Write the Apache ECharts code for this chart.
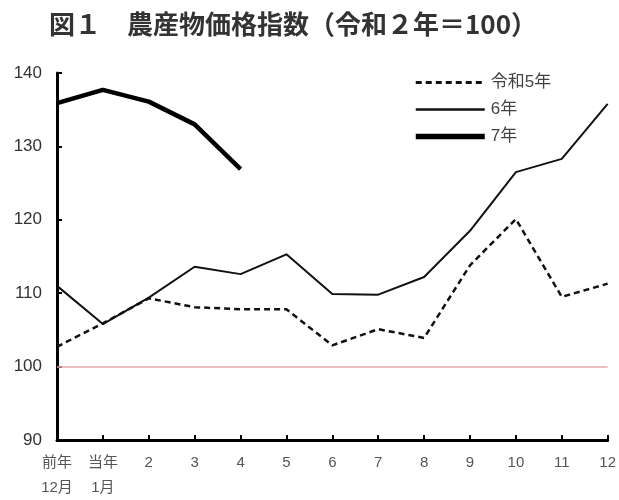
<!DOCTYPE html>
<html><head><meta charset="utf-8">
<script src="https://cdn.jsdelivr.net/npm/echarts@6/dist/echarts.min.js"></script>
<style>html,body{margin:0;padding:0;background:#fff}#c{width:619px;height:500px}</style>
</head><body><div id="c"></div>
<script>
const categories = ['前年\n12月','当年\n1月','2','3','4','5','6','7','8','9','10','11','12'];
const seriesNames = ['令和5年','6年','7年'];
const r5 = [102.7,105.9,109.3,108.1,107.8,107.8,102.9,105.1,103.9,113.8,120.1,109.5,111.3];
const r6 = [111.0,105.8,109.4,113.6,112.6,115.3,109.9,109.8,112.2,118.5,126.5,128.3,135.8];
const r7 = [135.9,137.7,136.1,133.0,126.9];
const baseline = 100;
const yTicks = {min:90, max:140, interval:10};
const FONT = '"Liberation Sans","Noto Sans CJK JP",sans-serif';
const widths = [2.5, 2, 4.5];
const legendWidths = [3, 2.5, 5.5];
const chart = echarts.init(document.getElementById('c'));
chart.setOption({
  animation:false,
  title:{text:'図１　農産物価格指数（令和２年＝100）',left:44,top:6,
    textStyle:{fontFamily:'"Noto Sans CJK JP",sans-serif',fontSize:26,fontWeight:'bold',color:'#333'}},
  legend:{orient:'vertical',left:413,top:74,padding:0,itemWidth:69,itemHeight:14,itemGap:10,
    itemStyle:{opacity:0},
    data:seriesNames.map((n,i)=>({name:n,lineStyle:{width:legendWidths[i]}})),
    textStyle:{fontFamily:FONT,fontSize:17,color:'#444',padding:[0,0,0,1]}},
  grid:{left:57,right:10,top:73,bottom:57,containLabel:false},
  xAxis:{type:'category',data:categories,boundaryGap:false,
    axisLine:{lineStyle:{color:'#000',width:3}},
    axisTick:{inside:true,length:5,lineStyle:{color:'#000',width:2},alignWithLabel:true},
    axisLabel:{interval:0,color:'#555',fontFamily:FONT,fontSize:15,margin:10,lineHeight:25}},
  yAxis:{type:'value',min:yTicks.min,max:yTicks.max,interval:yTicks.interval,
    splitLine:{show:false},
    axisLine:{show:true,lineStyle:{color:'#000',width:3}},
    axisTick:{show:true,inside:true,length:5,lineStyle:{color:'#000',width:2}},
    axisLabel:{color:'#333',fontFamily:FONT,fontSize:17,margin:15}},
  series:[
    {name:seriesNames[0],type:'line',data:r5,symbol:'none',z:3,
      lineStyle:{color:'#111',width:widths[0],type:[6,4]},itemStyle:{color:'#111'},
      markLine:{silent:true,symbol:'none',label:{show:false},
        lineStyle:{color:'#e9a7a7',width:1.5,type:'solid'},data:[{yAxis:baseline}]}},
    {name:seriesNames[1],type:'line',data:r6,symbol:'none',z:4,
      lineStyle:{color:'#111',width:widths[1]},itemStyle:{color:'#111'}},
    {name:seriesNames[2],type:'line',data:r7,symbol:'none',z:5,
      lineStyle:{color:'#000',width:widths[2]},itemStyle:{color:'#000'}}
  ]
});
</script></body></html>
